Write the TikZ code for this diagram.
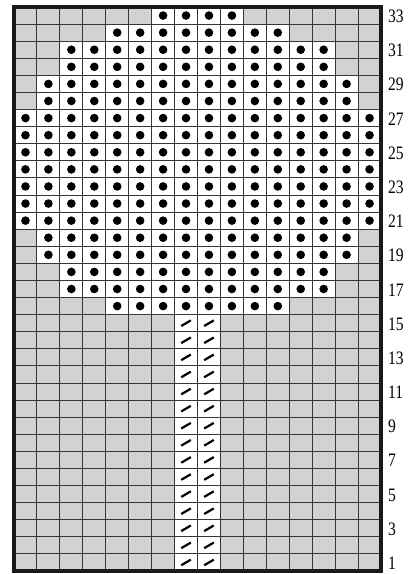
\documentclass[tikz,border=0pt]{standalone}
\usepackage{fontspec}
\setmainfont{Liberation Serif}
\definecolor{cellgray}{RGB}{209,210,212}
\definecolor{gridline}{RGB}{55,55,55}
\begin{document}
\begin{tikzpicture}[x=1pt,y=-1pt,
  gridrule/.style={draw=gridline,line width=0.9pt},
  frame/.style={draw=black!90,line width=4pt},
  bobble/.style={fill=black},
  slashmark/.style={draw=black,line width=2.2pt},
  rowlabel/.style={anchor=west,inner sep=0pt,font=\fontsize{19}{19}\selectfont}]
\useasboundingbox (0,0) rectangle (413,574);
\def\cw{22.9375}
\def\rh{17.0909}
\fill[cellgray] (14,7) rectangle (381,571);
% canopy
\foreach \r/\a/\b in {33/7/10,32/5/12,31/3/14,30/3/14,29/2/15,28/2/15,
  27/1/16,26/1/16,25/1/16,24/1/16,23/1/16,22/1/16,21/1/16,
  20/2/15,19/2/15,18/3/14,17/3/14,16/5/12}{
  \fill[white] ({14+(\a-1)*\cw},{571-\r*\rh}) rectangle ({14+\b*\cw},{571-(\r-1)*\rh});
  \foreach \c in {\a,...,\b}{
    \fill[bobble] ({14+(\c-0.5)*\cw},{571-(\r-0.5)*\rh}) circle[radius=4.3pt];
  }
}
% trunk
\fill[white] ({14+7*\cw},{571-15*\rh}) rectangle ({14+9*\cw},571);
% grid
\foreach \i in {1,...,15}{
  \draw[gridrule] ({14+\i*\cw},7) -- ({14+\i*\cw},571);
}
\foreach \j in {1,...,32}{
  \draw[gridrule] (14,{571-\j*\rh}) -- (381,{571-\j*\rh});
}
% slashes
\foreach \r in {1,...,15}{
  \foreach \c in {8,9}{
    \draw[slashmark] ({14+(\c-0.5)*\cw-4.8},{571-(\r-0.5)*\rh+2.8}) -- ({14+(\c-0.5)*\cw+4.8},{571-(\r-0.5)*\rh-2.8});
  }
}
\draw[frame] (14,7) rectangle (381,571);
% labels
\foreach \r in {1,3,...,33}{
  \node[rowlabel] (lab\r) at (388,{571-(\r-0.5)*\rh+0.8}) {\scalebox{0.82}[1]{\r}};
}
\end{tikzpicture}
\end{document}
